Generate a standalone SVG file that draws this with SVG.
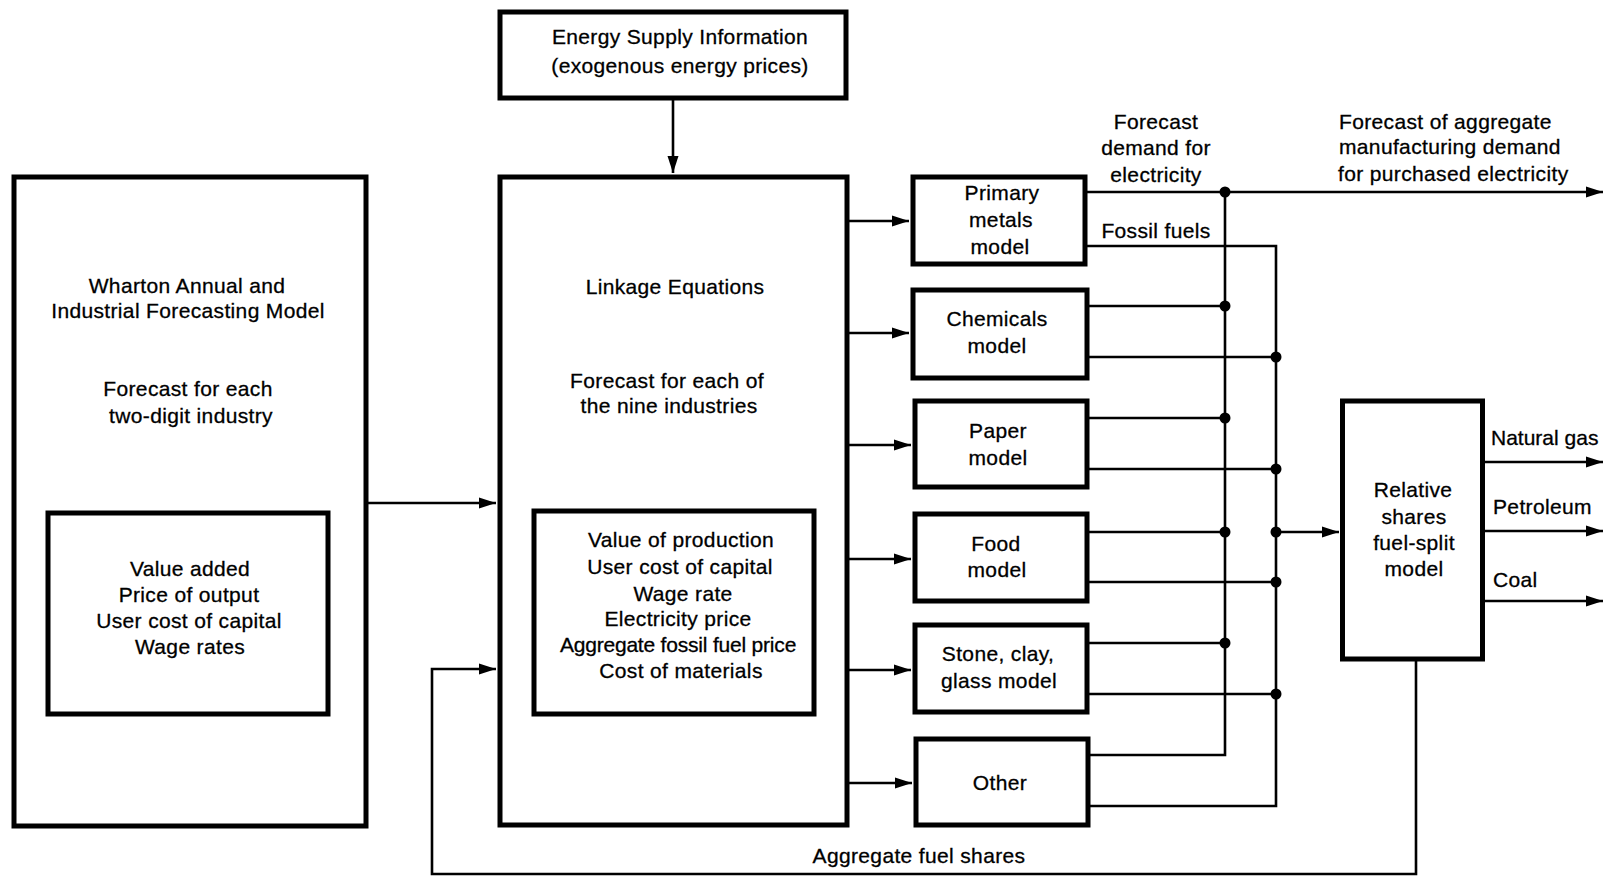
<svg xmlns="http://www.w3.org/2000/svg" width="1605" height="876" viewBox="0 0 1605 876">
<style>
.box{fill:#fff;stroke:#000;stroke-width:5}
.ln{fill:none;stroke:#000;stroke-width:2.6}
.t{font-family:"Liberation Sans",Arial,sans-serif;font-size:21px;letter-spacing:0.35px;fill:#000;stroke:#000;stroke-width:0.3;text-anchor:middle}
.s{text-anchor:start}
.dot{fill:#000}
</style>
<defs>
<marker id="ah" markerUnits="userSpaceOnUse" markerWidth="18" markerHeight="12" refX="17" refY="6" orient="auto">
<path d="M0,0.5 L17,6 L0,11.5 z" fill="#000"/>
</marker>
</defs>
<rect width="1605" height="876" fill="#fff"/>

<g id="connectors">
<line class="ln" x1="673" y1="100" x2="673" y2="173" marker-end="url(#ah)"/>
<line class="ln" x1="366" y1="503" x2="496" y2="503" marker-end="url(#ah)"/>
<path class="ln" d="M1416 661 V874 H432 V669 H496" marker-end="url(#ah)"/>
<line class="ln" x1="849" y1="221" x2="909" y2="221" marker-end="url(#ah)"/>
<line class="ln" x1="849" y1="333" x2="909" y2="333" marker-end="url(#ah)"/>
<line class="ln" x1="849" y1="445" x2="911" y2="445" marker-end="url(#ah)"/>
<line class="ln" x1="849" y1="559" x2="911" y2="559" marker-end="url(#ah)"/>
<line class="ln" x1="849" y1="670" x2="911" y2="670" marker-end="url(#ah)"/>
<line class="ln" x1="849" y1="783" x2="912" y2="783" marker-end="url(#ah)"/>
<!-- electricity bus -->
<line class="ln" x1="1085" y1="192" x2="1603" y2="192" marker-end="url(#ah)"/>
<path class="ln" d="M1225 192 V755 H1088"/>
<line class="ln" x1="1087" y1="306" x2="1225" y2="306"/>
<line class="ln" x1="1087" y1="418" x2="1225" y2="418"/>
<line class="ln" x1="1087" y1="532" x2="1225" y2="532"/>
<line class="ln" x1="1087" y1="643" x2="1225" y2="643"/>
<!-- fossil bus -->
<path class="ln" d="M1085 246 H1276 V806 H1088"/>
<line class="ln" x1="1087" y1="357" x2="1276" y2="357"/>
<line class="ln" x1="1087" y1="469" x2="1276" y2="469"/>
<line class="ln" x1="1087" y1="582" x2="1276" y2="582"/>
<line class="ln" x1="1087" y1="694" x2="1276" y2="694"/>
<line class="ln" x1="1276" y1="532" x2="1339" y2="532" marker-end="url(#ah)"/>
<!-- outputs -->
<line class="ln" x1="1485" y1="462" x2="1603" y2="462" marker-end="url(#ah)"/>
<line class="ln" x1="1485" y1="531" x2="1603" y2="531" marker-end="url(#ah)"/>
<line class="ln" x1="1485" y1="601" x2="1603" y2="601" marker-end="url(#ah)"/>
<!-- junction dots -->
<circle class="dot" cx="1225" cy="192" r="5.5"/>
<circle class="dot" cx="1225" cy="306" r="5.5"/>
<circle class="dot" cx="1225" cy="418" r="5.5"/>
<circle class="dot" cx="1225" cy="532" r="5.5"/>
<circle class="dot" cx="1225" cy="643" r="5.5"/>
<circle class="dot" cx="1276" cy="357" r="5.5"/>
<circle class="dot" cx="1276" cy="469" r="5.5"/>
<circle class="dot" cx="1276" cy="532" r="5.5"/>
<circle class="dot" cx="1276" cy="582" r="5.5"/>
<circle class="dot" cx="1276" cy="694" r="5.5"/>
<!-- connector labels -->
<text class="t" x="1156" y="129">Forecast</text>
<text class="t" x="1156" y="155">demand for</text>
<text class="t" x="1156" y="182">electricity</text>
<text class="t" x="1156" y="238">Fossil fuels</text>
<text class="t s" x="1339" y="129">Forecast of aggregate</text>
<text class="t s" x="1339" y="154">manufacturing demand</text>
<text class="t s" x="1338" y="181">for purchased electricity</text>
<text class="t s" x="1491" y="445" style="letter-spacing:0">Natural gas</text>
<text class="t s" x="1493" y="514">Petroleum</text>
<text class="t s" x="1493" y="587">Coal</text>
<text class="t" x="919" y="863">Aggregate fuel shares</text>
</g>

<g id="energy-supply">
<rect class="box" x="500" y="12" width="346" height="86"/>
<text class="t" x="680" y="44">Energy Supply Information</text>
<text class="t" x="680" y="73">(exogenous energy prices)</text>
</g>

<g id="wharton">
<rect class="box" x="14" y="177" width="352" height="649"/>
<text class="t" x="187" y="293">Wharton Annual and</text>
<text class="t" x="188" y="318">Industrial Forecasting Model</text>
<text class="t" x="188" y="396">Forecast for each</text>
<text class="t" x="191" y="423">two-digit industry</text>
</g>
<g id="wharton-inner">
<rect class="box" x="48" y="513" width="280" height="201"/>
<text class="t" x="190" y="576">Value added</text>
<text class="t" x="189" y="602">Price of output</text>
<text class="t" x="189" y="628">User cost of capital</text>
<text class="t" x="190" y="654">Wage rates</text>
</g>

<g id="linkage">
<rect class="box" x="500" y="177" width="347" height="648"/>
<text class="t" x="675" y="294">Linkage Equations</text>
<text class="t" x="667" y="388">Forecast for each of</text>
<text class="t" x="669" y="413">the nine industries</text>
</g>
<g id="linkage-inner">
<rect class="box" x="534" y="511" width="280" height="203"/>
<text class="t" x="681" y="547">Value of production</text>
<text class="t" x="680" y="574">User cost of capital</text>
<text class="t" x="683" y="601">Wage rate</text>
<text class="t" x="678" y="626">Electricity price</text>
<text class="t" x="678" y="652" style="letter-spacing:-0.2px">Aggregate fossil fuel price</text>
<text class="t" x="681" y="678">Cost of materials</text>
</g>

<g id="primary-metals">
<rect class="box" x="913" y="177" width="172" height="87"/>
<text class="t" x="1002" y="200">Primary</text>
<text class="t" x="1001" y="227">metals</text>
<text class="t" x="1000" y="254">model</text>
</g>
<g id="chemicals">
<rect class="box" x="913" y="290" width="174" height="88"/>
<text class="t" x="997" y="326">Chemicals</text>
<text class="t" x="997" y="353">model</text>
</g>
<g id="paper">
<rect class="box" x="915" y="401" width="172" height="86"/>
<text class="t" x="998" y="438">Paper</text>
<text class="t" x="998" y="465">model</text>
</g>
<g id="food">
<rect class="box" x="915" y="514" width="172" height="87"/>
<text class="t" x="996" y="551">Food</text>
<text class="t" x="997" y="577">model</text>
</g>
<g id="stone-clay-glass">
<rect class="box" x="915" y="625" width="172" height="87"/>
<text class="t" x="998" y="661">Stone, clay,</text>
<text class="t" x="999" y="688">glass model</text>
</g>
<g id="other">
<rect class="box" x="916" y="739" width="172" height="86"/>
<text class="t" x="1000" y="790">Other</text>
</g>
<g id="fuel-split">
<rect class="box" x="1342.5" y="401" width="140" height="258"/>
<text class="t" x="1413" y="497">Relative</text>
<text class="t" x="1414" y="524">shares</text>
<text class="t" x="1414" y="550">fuel-split</text>
<text class="t" x="1414" y="576">model</text>
</g>
</svg>
